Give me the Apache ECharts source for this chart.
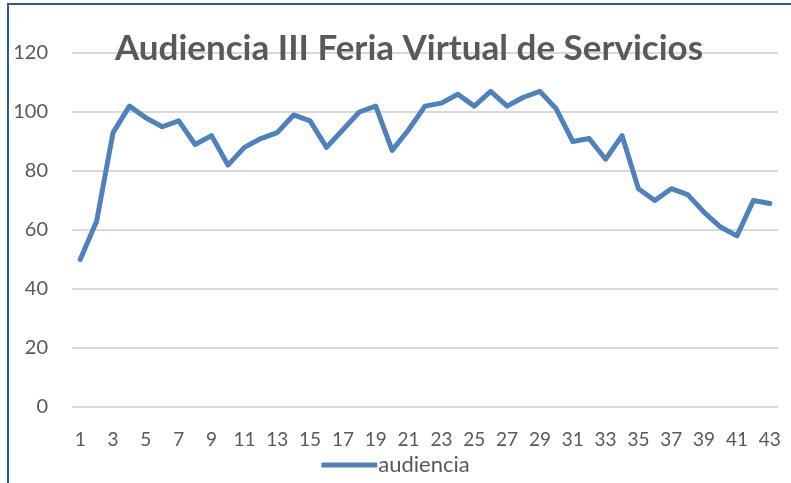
<!DOCTYPE html>
<html>
<head>
<meta charset="utf-8">
<script src="https://cdn.jsdelivr.net/npm/echarts@6/dist/echarts.min.js"></script>
<style>
  html, body { margin: 0; padding: 0; background: #fff; }
  #chart { position: absolute; left: 0; top: 0; width: 791px; height: 483px; }
  #frame { position: absolute; left: 7px; top: 3px; width: 800px; height: 500px;
           border-left: 2px solid #2E5B92; border-top: 2px solid #2E5B92; pointer-events: none; }
</style>
</head>
<body>
<div id="chart"></div>
<div id="frame"></div>
<script>
const titleText = 'Audiencia III Feria Virtual de Servicios';
const seriesName = 'audiencia';
const categories = [];
for (let i = 1; i <= 43; i++) categories.push(String(i));
const audiencia = [50, 63, 93, 102, 98, 95, 97, 89, 92, 82,
                   88, 91, 93, 99, 97, 88, 94, 100, 102, 87,
                   94, 102, 103, 106, 102, 107, 102, 105, 107, 101,
                   90, 91, 84, 92, 74, 70, 74, 72, 66, 61,
                   58, 70, 69];
const yMin = 0, yMax = 120, yStep = 20;

const chart = echarts.init(document.getElementById('chart'), null, { renderer: 'canvas' });
const font = 'Lato, "Open Sans", sans-serif';
chart.setOption({
  animation: false,
  backgroundColor: '#ffffff',
  title: {
    text: titleText,
    left: 404,
    textAlign: 'center',
    top: 26,
    textStyle: { fontFamily: font, fontWeight: 'bold', fontSize: 35, color: '#595959' }
  },
  legend: {
    bottom: 2,
    left: 'center',
    itemWidth: 56,
    itemHeight: 5,
    itemGap: 2,
    icon: 'roundRect',
    data: [seriesName],
    textStyle: { fontFamily: font, fontSize: 22, color: '#595959', padding: [0, 0, 0, -4] }
  },
  grid: { left: 72, right: 13, top: 53, bottom: 76, containLabel: false },
  xAxis: {
    type: 'category',
    data: categories,
    boundaryGap: true,
    axisLine: { show: false },
    axisTick: { show: false },
    axisLabel: { interval: 1, margin: 23, fontFamily: font, fontSize: 19, color: '#595959' }
  },
  yAxis: {
    type: 'value',
    min: yMin, max: yMax, interval: yStep,
    axisLine: { show: false },
    axisTick: { show: false },
    splitLine: { lineStyle: { color: '#d9d9d9', width: 2 } },
    axisLabel: { margin: 24, fontFamily: font, fontSize: 20, color: '#595959' }
  },
  series: [{
    name: seriesName,
    type: 'line',
    data: audiencia,
    symbol: 'none',
    lineStyle: { color: '#4F81BD', width: 5, join: 'round', cap: 'round' },
    itemStyle: { color: '#4F81BD' }
  }]
});
</script>
</body>
</html>
